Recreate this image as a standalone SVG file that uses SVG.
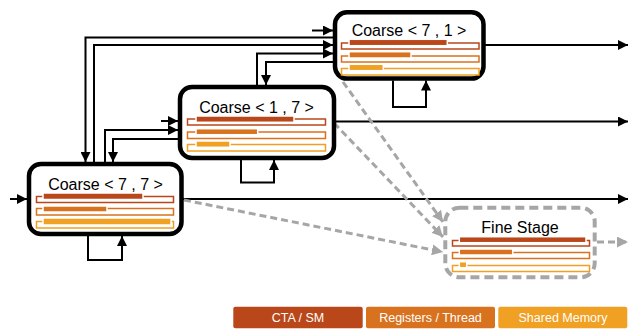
<svg xmlns="http://www.w3.org/2000/svg" width="636" height="329" viewBox="0 0 636 329">
<defs>
<style>
.node{fill:#fff;stroke:#000;stroke-width:4.5}
.fine{fill:#fff;stroke:#A6A6A6;stroke-width:4;stroke-dasharray:9 5}
.t{font-family:"Liberation Sans",Arial,sans-serif;font-size:16px;fill:#000;text-anchor:middle}
.lt{font-family:"Liberation Sans",Arial,sans-serif;font-size:12.5px;fill:#fff;text-anchor:middle}
.o1{fill:#fff;stroke:#B9471A;stroke-width:1.5}
.o2{fill:#fff;stroke:#D9721E;stroke-width:1.5}
.o3{fill:#fff;stroke:#F0A022;stroke-width:1.5}
.f1{fill:#B9471A;stroke:#fff;stroke-width:1.5}
.f2{fill:#D9721E;stroke:#fff;stroke-width:1.5}
.f3{fill:#F0A022;stroke:#fff;stroke-width:1.5}
.ca{fill:none;stroke:#000;stroke-width:2;marker-end:url(#ah)}
.d{fill:none;stroke:#A6A6A6;stroke-width:3;stroke-dasharray:7 4;marker-end:url(#gh)}
</style>
<marker id="ah" markerUnits="userSpaceOnUse" markerWidth="10" markerHeight="10" refX="10" refY="5" orient="auto" viewBox="0 0 10 10">
<path d="M0,0 L10,5 L0,10 z" fill="#000"/>
</marker>
<marker id="gh" markerUnits="userSpaceOnUse" markerWidth="11" markerHeight="11" refX="10" refY="5" orient="auto" viewBox="0 0 10 10">
<path d="M0,0 L10,5 L0,10 z" fill="#A6A6A6"/>
</marker>
</defs>
<rect width="636" height="329" fill="#fff"/>
<g id="connectors">
<path class="ca" d="M10,199 L27,199"/>
<path class="ca" d="M183,199 L628,199"/>
<path class="ca" d="M161,121 L178,121"/>
<path class="ca" d="M336,121.5 L628,121.5"/>
<path class="ca" d="M312,30.5 L333,30.5"/>
<path class="ca" d="M485,45 L628,45"/>
<path class="ca" d="M333,37.5 L85.5,37.5 L85.5,162"/>
<path class="ca" d="M94,162 L94,45 L333,45"/>
<path class="ca" d="M105,162 L105,130 L178,130"/>
<path class="ca" d="M178,139 L113,139 L113,162"/>
<path class="ca" d="M257,85 L257,53.5 L333,53.5"/>
<path class="ca" d="M333,62 L266,62 L266,85"/>
<path class="ca" d="M88,236 L88,260 L122,260 L122,236"/>
<path class="ca" d="M241,160 L241,182.5 L274,182.5 L274,160"/>
<path class="ca" d="M393,80.5 L393,107 L426,107 L426,80.5"/>
<path class="d" d="M343,82 L443,222"/>
<path class="d" d="M334,123 L443,237"/>
<path class="d" d="M184,200 L443,252"/>
<path class="d" d="M597,242 L628,242"/>
</g>
<g id="coarse77">
<rect class="node" x="29" y="164" width="152.5" height="70" rx="12"/>
<text class="t" x="105.5" y="190">Coarse &lt; 7 , 7 &gt;</text>
<rect class="o1" x="36.5" y="196.5" width="137" height="6"/>
<rect class="f1" x="43" y="193" width="100" height="6.5"/>
<rect class="o2" x="36.5" y="208.5" width="137" height="6.5"/>
<rect class="f2" x="43" y="206" width="64" height="6"/>
<rect class="o3" x="36.5" y="221.5" width="137" height="6.5"/>
<rect class="f3" x="43" y="218" width="128" height="7"/>
</g>
<g id="coarse17">
<rect class="node" x="180" y="87" width="154" height="71" rx="12"/>
<text class="t" x="256.5" y="112.5">Coarse &lt; 1 , 7 &gt;</text>
<rect class="o1" x="187.5" y="119" width="138" height="6"/>
<rect class="f1" x="196" y="116" width="98" height="6.3"/>
<rect class="o2" x="187.5" y="132" width="138" height="6.5"/>
<rect class="f2" x="196" y="128.7" width="61.7" height="6"/>
<rect class="o3" x="187.5" y="144.5" width="138" height="6.5"/>
<rect class="f3" x="196" y="141" width="34" height="6.3"/>
</g>
<g id="coarse71">
<rect class="node" x="335" y="12.3" width="148.5" height="66.3" rx="12"/>
<text class="t" x="409" y="36">Coarse &lt; 7 , 1 &gt;</text>
<rect class="o1" x="341.5" y="43" width="137.5" height="6"/>
<rect class="f1" x="349" y="39.3" width="98.3" height="6.4"/>
<rect class="o2" x="341.5" y="56" width="137.5" height="6"/>
<rect class="f2" x="349" y="51.7" width="62" height="6.3"/>
<rect class="o3" x="341.5" y="68.5" width="137.5" height="6.5"/>
<rect class="f3" x="349" y="64.3" width="34.3" height="6.4"/>
</g>
<g id="fine">
<rect class="fine" x="445.3" y="207.7" width="149.4" height="69.6" rx="14"/>
<text class="t" x="520" y="232.5">Fine Stage</text>
<rect class="o1" x="452.5" y="240.5" width="137" height="5.5"/>
<rect class="f1" x="459.3" y="236.7" width="126.7" height="6"/>
<rect class="o2" x="452.5" y="252.5" width="137" height="6"/>
<rect class="f2" x="459.3" y="249" width="53.4" height="6"/>
<rect class="o3" x="452.5" y="265.5" width="137" height="6"/>
<rect class="f3" x="459.3" y="261.7" width="7.4" height="6"/>
</g>
<g id="legend">
<rect x="233.3" y="306.7" width="129.4" height="21.6" rx="2" fill="#B9471A"/>
<text class="lt" x="298" y="322">CTA / SM</text>
<rect x="366" y="306.7" width="129" height="21.6" rx="2" fill="#D9721E"/>
<text class="lt" x="430.5" y="322">Registers / Thread</text>
<rect x="498.3" y="306.7" width="129" height="21.6" rx="2" fill="#F0A022"/>
<text class="lt" x="563" y="322">Shared Memory</text>
</g>
</svg>
